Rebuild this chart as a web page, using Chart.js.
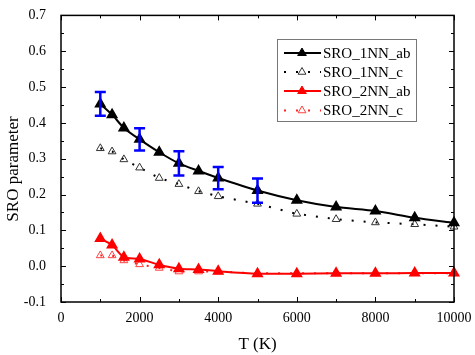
<!DOCTYPE html>
<html>
<head>
<meta charset="utf-8">
<script src="https://cdn.jsdelivr.net/npm/chart.js@4.4.0/dist/chart.umd.min.js"></script>
<style>
  html, body { margin: 0; padding: 0; background: #fff; }
</style>
</head>
<body>
<canvas id="sro" width="475" height="355"></canvas>
<script>
/* SRO parameter vs temperature */
const temps = [1000, 1300, 1600, 2000, 2500, 3000, 3500, 4000, 5000, 6000, 7000, 8000, 9000, 10000];
const sro1ab = [0.453, 0.423, 0.386, 0.354, 0.318, 0.287, 0.266, 0.246, 0.211, 0.184, 0.165, 0.154, 0.135, 0.121];
const sro1c  = [0.329, 0.320, 0.298, 0.275, 0.246, 0.229, 0.209, 0.195, 0.174, 0.146, 0.131, 0.122, 0.117, 0.110];
const sro2ab = [0.077, 0.059, 0.025, 0.020, 0.004, -0.007, -0.009, -0.014, -0.021, -0.021, -0.020, -0.020, -0.019, -0.019];
const sro2c  = [0.030, 0.030, 0.016, 0.005, -0.005, -0.015, -0.015, -0.015, -0.020, -0.020, -0.020, -0.020, -0.020, -0.020];

// error bars on SRO_1NN_ab
const errTemps = [1000, 2000, 3000, 4000, 5000];
const errHalf  = [0.033, 0.031, 0.034, 0.031, 0.034];

const labels = ["SRO_1NN_ab", "SRO_1NN_c", "SRO_2NN_ab", "SRO_2NN_c"];
const xTicks = [0, 2000, 4000, 6000, 8000, 10000];
const yTicks = [-0.1, 0.0, 0.1, 0.2, 0.3, 0.4, 0.5, 0.6, 0.7];

const FONT = "'Liberation Serif', 'Times New Roman', serif";

function pts(ys) {
  return temps.map((t, i) => ({ x: t, y: ys[i] }));
}

/* ---- plugin: frame, inward ticks, error bars, legend, y title ---- */
const decor = {
  id: "decor",
  afterDatasetsDraw(chart) {
    const { ctx, scales } = chart;
    const xs = scales.x, ys = scales.y;

    // error bars
    ctx.save();
    ctx.strokeStyle = "#0000ff";
    ctx.lineWidth = 2.5;
    errTemps.forEach((t, i) => {
      const yv = sro1ab[temps.indexOf(t)];
      const px = xs.getPixelForValue(t);
      const top = ys.getPixelForValue(yv + errHalf[i]);
      const bot = ys.getPixelForValue(yv - errHalf[i]);
      ctx.beginPath();
      ctx.moveTo(px, top); ctx.lineTo(px, bot);
      ctx.moveTo(px - 5.5, top); ctx.lineTo(px + 5.5, top);
      ctx.moveTo(px - 5.5, bot); ctx.lineTo(px + 5.5, bot);
      ctx.stroke();
    });
    ctx.restore();
  },
  afterDraw(chart) {
    const { ctx, chartArea: a, scales } = chart;
    const xs = scales.x, ys = scales.y;
    ctx.save();
    // frame
    ctx.strokeStyle = "#000";
    ctx.lineWidth = 1.5;
    ctx.strokeRect(a.left, a.top, a.right - a.left, a.bottom - a.top);

    // inward ticks
    ctx.lineWidth = 1;
    ctx.beginPath();
    for (let v = 0; v <= 10000; v += 1000) {
      const px = Math.round(xs.getPixelForValue(v)) + 0.5;
      const len = v % 2000 === 0 ? 5 : 3;
      ctx.moveTo(px, a.bottom); ctx.lineTo(px, a.bottom - len);
      ctx.moveTo(px, a.top); ctx.lineTo(px, a.top + len);
    }
    for (let k = -2; k <= 14; k++) {
      const v = k * 0.05;
      const py = Math.round(ys.getPixelForValue(v)) + 0.5;
      const len = k % 2 === 0 ? 5 : 3;
      ctx.moveTo(a.left, py); ctx.lineTo(a.left + len, py);
      ctx.moveTo(a.right, py); ctx.lineTo(a.right - len, py);
    }
    ctx.stroke();

    // y title
    ctx.fillStyle = "#000";
    ctx.font = "17px " + FONT;
    ctx.textAlign = "center";
    ctx.textBaseline = "middle";
    ctx.translate(14, 169);
    ctx.rotate(-Math.PI / 2);
    ctx.fillText("SRO parameter", 0, 0);
    ctx.restore();

    // legend box
    ctx.save();
    const lx = 277, ly = 39, lw = 139, lh = 82;
    ctx.strokeStyle = "#777";
    ctx.lineWidth = 1;
    ctx.strokeRect(lx + 0.5, ly + 0.5, lw, lh);
    const rows = [53, 72, 91, 110.5];
    chart.data.datasets.forEach((ds, i) => {
      const y = rows[i];
      ctx.strokeStyle = ds.borderColor;
      ctx.lineWidth = 2;
      ctx.setLineDash(ds.borderDash || []);
      ctx.beginPath();
      ctx.moveTo(284, y); ctx.lineTo(321, y);
      ctx.stroke();
      ctx.setLineDash([]);
      ctx.fillStyle = ds.pointBackgroundColor;
      ctx.strokeStyle = ds.pointBorderColor;
      ctx.lineWidth = 1;
      Chart.helpers.drawPoint(ctx, {
        pointStyle: "triangle", rotation: 0, radius: ds.pointRadius,
        borderWidth: 1
      }, 302, y);
      ctx.fillStyle = "#000";
      ctx.font = "15px " + FONT;
      ctx.textAlign = "left";
      ctx.textBaseline = "middle";
      ctx.fillText(labels[i], 323, y + 1);
    });
    ctx.restore();
  }
};

new Chart(document.getElementById("sro"), {
  type: "line",
  data: {
    datasets: [
      {
        label: labels[0], data: pts(sro1ab),
        borderColor: "#000", borderWidth: 2, tension: 0.25,
        pointStyle: "triangle", pointRadius: 5,
        pointBackgroundColor: "#000", pointBorderColor: "#000",
      },
      {
        label: labels[1], data: pts(sro1c),
        borderColor: "#000", borderWidth: 2, borderDash: [2, 10],
        pointStyle: "triangle", pointRadius: 4.5,
        pointBackgroundColor: "rgba(255,255,255,0)", pointBorderColor: "#333", pointBorderWidth: 1,
      },
      {
        label: labels[2], data: pts(sro2ab),
        borderColor: "#ff0000", borderWidth: 2, tension: 0.25,
        pointStyle: "triangle", pointRadius: 5,
        pointBackgroundColor: "#ff0000", pointBorderColor: "#ff0000",
      },
      {
        label: labels[3], data: pts(sro2c),
        borderColor: "#ff2020", borderWidth: 2, borderDash: [2, 10],
        pointStyle: "triangle", pointRadius: 4.5,
        pointBackgroundColor: "rgba(255,255,255,0)", pointBorderColor: "#ff4040", pointBorderWidth: 1,
      },
    ],
  },
  options: {
    responsive: false,
    animation: false,
    clip: false,
    layout: { padding: { top: 12, right: 21, left: 0, bottom: 0 } },
    plugins: { legend: { display: false }, tooltip: { enabled: false } },
    scales: {
      x: {
        type: "linear", min: 0, max: 10000,
        afterBuildTicks: (s) => { s.ticks = xTicks.map((v) => ({ value: v })); },
        afterFit: (s) => { s.height = 53; },
        grid: { display: false },
        border: { display: false },
        ticks: { color: "#000", font: { family: FONT, size: 14 }, padding: 0, maxRotation: 0,
                 autoSkip: false, callback: (v) => String(v) },
        title: { display: true, text: "T (K)", color: "#000", font: { family: FONT, size: 17 }, padding: { top: 4, bottom: 0 } },
      },
      y: {
        min: -0.1, max: 0.7,
        afterBuildTicks: (s) => { s.ticks = yTicks.map((v) => ({ value: v })); },
        ticks: { color: "#000", font: { family: FONT, size: 14 }, padding: 7, autoSkip: false,
                 callback: (v) => v.toFixed(1) },
        afterFit: (s) => { s.width = 61; },
        grid: { display: false },
        border: { display: false },
      },
    },
  },
  plugins: [decor],
});
</script>
</body>
</html>
